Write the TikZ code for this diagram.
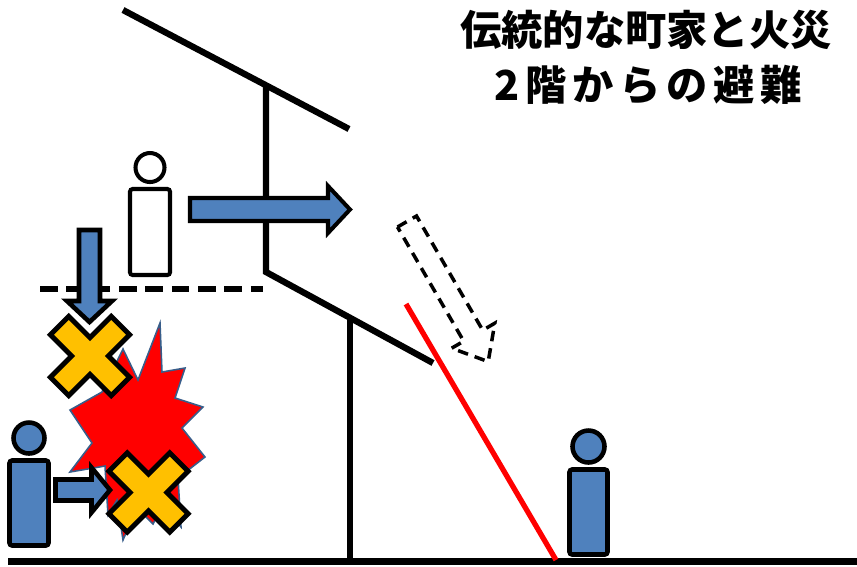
\documentclass[tikz,border=0pt]{standalone}
\usepackage{fontspec}
\newfontfamily\jpfont{Noto Sans CJK JP}
\usetikzlibrary{positioning}
\definecolor{figblue}{RGB}{79,129,189}
\definecolor{xyellow}{RGB}{255,192,0}
\definecolor{burstedge}{RGB}{56,93,138}
\tikzset{
  wall/.style={
    line width = 3.6pt
  },
  floor/.style={
    line width = 3.4pt,
    dash pattern = on 10pt off 5pt
  },
  ladder/.style={
    line width = 3pt,
    red
  },
  head/.style={
    shape = circle,
    draw,
    line width = 2.6pt,
    inner sep = 0pt,
    outer sep = 0pt,
    minimum size = 0.62cm
  },
  torso/.style={
    shape = rectangle,
    draw,
    line width = 2.6pt,
    rounded corners = 1.5pt,
    inner sep = 0pt,
    outer sep = 0pt,
    minimum width = 0.78cm,
    minimum height = 1.7cm
  },
  bluearrow/.style={
    draw,
    fill = figblue,
    line width = 2.6pt
  },
  ghostarrow/.style={
    draw,
    line width = 2pt,
    dash pattern = on 6pt off 4pt
  },
  burst/.style={
    fill = red,
    draw = burstedge,
    line width = 0.9pt
  },
  pics/crossmark/.style={
    code={
      \draw[fill=xyellow, line width=2.8pt, rotate=45]
        (43,-13) -- (43,13) -- (13,13) -- (13,43) -- (-13,43) -- (-13,13)
        -- (-43,13) -- (-43,-13) -- (-13,-13) -- (-13,-43) -- (13,-43) -- (13,-13) -- cycle;
    }
  },
  titletext/.style={
    font = \jpfont\bfseries\fontsize{23.5}{28}\selectfont,
    anchor = base,
    inner sep = 0pt
  }
}

\begin{document}
\begin{tikzpicture}[x=0.02cm, y=-0.02cm]
        \useasboundingbox (0,0) rectangle (857,566);
        % house
        \coordinate (roofA) at (123,10);
        \coordinate (roofB) at (349,129);
        \coordinate (wallA) at (266,86);
        \coordinate (sill) at (266,272);
        \coordinate (eave) at (433,363);
        \coordinate (wallB) at (350,318);
        \coordinate (base) at (350,561);
        \draw[wall] (roofA)--(roofB);
        \draw[wall] (wallA)--(sill)--(eave);
        \draw[wall] (wallB)--(base);
        \draw[line width=4pt] (8,561)--(857,561);
        \draw[floor] (40,289)--(263,289);
        \draw[ladder] (406,304)--(556,560);
        % fire
        \draw[burst] (160,323)--(138,380)--(123,349)--(102,392)--(70,410)--(92,443)--(70,472)
          --(105,466)--(108,515)--(117,500)--(123,540)--(137,508)--(153,524)--(163,505)
          --(181,527)--(178,478)--(205,457)--(182,428)--(203,407)--(175,398)--(185,368)
          --(162,372)--cycle;
        \pic at (90,356) {crossmark};
        \pic at (148.5,492.5) {crossmark};
        % arrows
        \draw[bluearrow, line width=2.3pt] (190,198)--(328,198)--(328,186)--(350,209.5)
          --(328,233)--(328,221)--(190,221)--cycle;
        \draw[bluearrow] (79,230)--(100,230)--(100,301)--(112,301)--(89.5,322)--(67,301)
          --(79,301)--cycle;
        \draw[bluearrow] (55.5,479.5)--(91.5,479.5)--(91.5,467.5)--(110,490)--(91.5,512.5)
          --(91.5,500.5)--(55.5,500.5)--cycle;
        \draw[ghostarrow] (397.5,227)--(416.5,216)--(482.7,330.2)--(494.8,323.2)--(488.2,361.6)
          --(451.6,348.2)--(463.7,341.2)--cycle;
        % people
        \node[torso, fill=white, line width=2.3pt, minimum width=0.8cm, minimum height=1.72cm] (body1) at (150,232) {};
        \node[head, fill=white, line width=2.3pt, minimum size=0.58cm, above=0.14cm of body1] (head1) {};
        \node[torso, fill=figblue] (body2) at (29,503) {};
        \node[head, fill=figblue, above=0.14cm of body2] (head2) {};
        \node[torso, fill=figblue, minimum width=0.76cm] (body3) at (588.5,512) {};
        \node[head, fill=figblue, minimum size=0.64cm, above=0.14cm of body3] (head3) {};
        % title
        \node[titletext] (title1) at (646,45) {伝統的な町家と火災};
        \node[titletext] (title2) at (648,100) {\addfontfeatures{LetterSpace=14}2階からの避難};
\end{tikzpicture}
\end{document}
